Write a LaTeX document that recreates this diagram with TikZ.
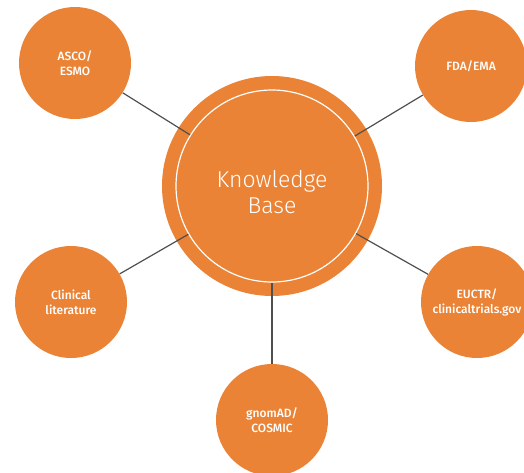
\documentclass[tikz,border=0pt]{standalone}
\usepackage{fontspec}
\setmainfont{Fira Sans}
\newfontfamily\lightfont{Fira Sans Light}
\newfontfamily\medfont{Fira Sans Medium}
\definecolor{kborange}{HTML}{EA8335}
\definecolor{linkgray}{HTML}{4F4F4F}
\tikzset{
  source/.style={shape=circle, fill=kborange, minimum size=112pt, inner sep=0pt,
    text=white, align=center, font=\medfont\fontsize{12}{15}\selectfont},
  link/.style={-, line width=1.2pt, draw=linkgray}
}
\begin{document}
\begin{tikzpicture}[x=1pt, y=-1pt]
\useasboundingbox (0,0) rectangle (524,472);
\node[shape=circle, fill=kborange, minimum size=220pt, inner sep=0pt] (KBouter) at (272,186) {};
\node[shape=circle, draw=white, line width=1.2pt, minimum size=192pt, inner sep=0pt] (KB) at (272,186) {};
\node[text=white, align=center, font=\lightfont\fontsize{23}{26}\selectfont] (KBtext) at (272,192) {Knowledge\\Base};
\node[source] (ASCO) at (75,63) {ASCO/\\ESMO};
\node[source] (FDA) at (471,66) {FDA/EMA};
\node[source] (CLIN) at (71,302) {Clinical\\literature};
\node[source] (EUCTR) at (477,302) {EUCTR/\\clinicaltrials.gov};
\node[source] (GNOMAD) at (272,420) {gnomAD/\\COSMIC};
\path [link] (ASCO) edge (KB);
\path [link] (FDA) edge (KB);
\path [link] (CLIN) edge (KB);
\path [link] (EUCTR) edge (KB);
\path [link] (GNOMAD) edge (KB);
\end{tikzpicture}
\end{document}
